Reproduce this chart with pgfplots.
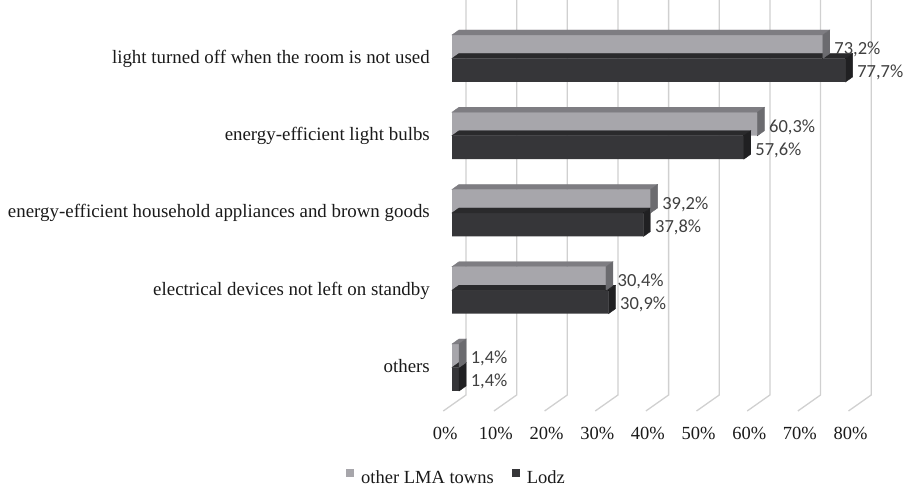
\documentclass[border=0pt]{standalone}
\usepackage{fontspec}
\setmainfont{Liberation Serif}
\newfontfamily\valuefont{Carlito}
\usepackage{pgfplots}
\usepackage{pgfplotstable}
\pgfplotsset{compat=1.18}

\definecolor{lmafront}{HTML}{A7A6AB}
\definecolor{lmatop}{HTML}{7E7D82}
\definecolor{lmaside}{HTML}{6B6B6F}
\definecolor{lodzfront}{HTML}{363639}
\definecolor{lodztop}{HTML}{2A2A2C}
\definecolor{lodzside}{HTML}{202022}
\definecolor{gridgray}{HTML}{D0D0D0}
\definecolor{valuegray}{HTML}{404040}
\definecolor{labelblack}{HTML}{1A1A1A}

% share of respondents (%) per measure; k = row of the chart, 4 = top
\pgfplotstableread{
k  lma   lodz
4  73.2  77.7
3  60.3  57.6
2  39.2  37.8
1  30.4  30.9
0  1.4   1.4
}\shares

% bar geometry in bp
\def\barh{23.5}
\def\dx{7}
\def\dy{5}
\def\xunit{5.065}

% top and side faces of a bar whose front face ends at the current point
% #1 top colour, #2 side colour, #3 bottom of the bar relative to the point
\newcommand\bardepth[3]{%
  \pgfmathsetmacro\L{\val*\xunit}%
  \pgfmathsetmacro\Lb{\dx-\L}%
  \pgfmathsetmacro\yb{#3}%
  \pgfmathsetmacro\yt{#3+\barh}%
  \pgfmathsetmacro\ytt{#3+\barh+\dy}%
  \pgfmathsetmacro\ybb{#3+\dy}%
  \fill[#1] (-\L bp,\yt bp) -- (0bp,\yt bp) -- (\dx bp,\ytt bp) -- (\Lb bp,\ytt bp) -- cycle;
  \fill[#2] (0bp,\yb bp) -- (0bp,\yt bp) -- (\dx bp,\ytt bp) -- (\dx bp,\ybb bp) -- cycle;
}

\newcommand\chartfont{\fontsize{18.5bp}{22bp}\selectfont}
\newcommand\catfont{\fontsize{18.9bp}{22bp}\selectfont}

\begin{document}
\begin{tikzpicture}[x=1bp,y=1bp]
\useasboundingbox (0,0) rectangle (911,489);
\begin{axis}[
  at={(452bp,44.25bp)}, anchor=south west,
  x=5.065bp, y=77.25bp,
  xmin=0, xmax=90, ymin=-1, ymax=4.75,
  clip=false,
  axis line style={draw=none},
  major tick length=0pt,
  tick style={draw=none},
  xtick={0,10,...,80},
  xticklabels={0\%,10\%,20\%,30\%,40\%,50\%,60\%,70\%,80\%},
  xticklabel style={anchor=base, inner sep=0pt, xshift=-6.7bp, yshift=4.75bp,
    font=\chartfont, text=labelblack},
  ytick={0,1,2,3,4},
  yticklabels={others,
    electrical devices not left on standby,
    energy-efficient household appliances and brown goods,
    energy-efficient light bulbs,
    light turned off when the room is not used},
  yticklabel style={anchor=base east, inner sep=0pt, xshift=-22bp, yshift=-5bp,
    font=\catfont, text=labelblack},
  legend style={at={(axis description cs:-0.2325,-0.0735)}, anchor=west,
    draw=none, fill=none, inner sep=0pt, font=\chartfont, text=labelblack,
    legend columns=2,
    /tikz/every odd column/.append style={column sep=5bp},
    /tikz/every even column/.append style={column sep=16bp}},
  legend image code/.code={\fill[#1, draw=none] (0bp,0bp) rectangle (8bp,8bp);},
]

% back wall and floor grid
\pgfplotsinvokeforeach{0,10,...,80}{
  \draw[gridgray, line width=1.3bp]
    ([xshift=14bp]axis cs:#1,4.76) -- ([xshift=14bp]axis cs:#1,-0.356)
    -- ([xshift=-8.7bp]axis cs:#1,-0.563);
}

\addlegendimage{fill=lmafront}
\addlegendentry{other LMA towns}
\addlegendimage{fill=lodzfront}
\addlegendentry{Lodz}

% Lodz: depth faces, then front face
\addplot[forget plot, scatter, only marks, mark=*, mark size=0.01pt,
  mark options={draw=none, fill=none},
  visualization depends on={rawx \as \val},
  scatter/@pre marker code/.code={\bardepth{lodztop}{lodzside}{-23.5}},
  scatter/@post marker code/.code={}]
  table[x=lodz, y=k]{\shares};
\addplot[forget plot, xbar, bar width=23.5bp, bar shift=-11.75bp,
  fill=lodzfront, draw=none, point meta=x,
  nodes near coords={\pgfmathprintnumber[fixed, fixed zerofill, precision=1, use comma, assume math mode=true]{\pgfplotspointmeta}\%},
  every node near coord/.append style={anchor=base west, inner sep=0pt,
    xshift=11.5bp, yshift=-19.5bp, font=\valuefont\chartfont, text=valuegray}]
  table[x=lodz, y=k]{\shares};

% other LMA towns: depth faces, then front face
\addplot[forget plot, scatter, only marks, mark=*, mark size=0.01pt,
  mark options={draw=none, fill=none},
  visualization depends on={rawx \as \val},
  scatter/@pre marker code/.code={\bardepth{lmatop}{lmaside}{0}},
  scatter/@post marker code/.code={}]
  table[x=lma, y=k]{\shares};
\addplot[forget plot, xbar, bar width=23.5bp, bar shift=11.75bp,
  fill=lmafront, draw=none, point meta=x,
  nodes near coords={\pgfmathprintnumber[fixed, fixed zerofill, precision=1, use comma, assume math mode=true]{\pgfplotspointmeta}\%},
  every node near coord/.append style={anchor=base west, inner sep=0pt,
    xshift=11.5bp, yshift=3.5bp, font=\valuefont\chartfont, text=valuegray}]
  table[x=lma, y=k]{\shares};

\end{axis}
\end{tikzpicture}
\end{document}
